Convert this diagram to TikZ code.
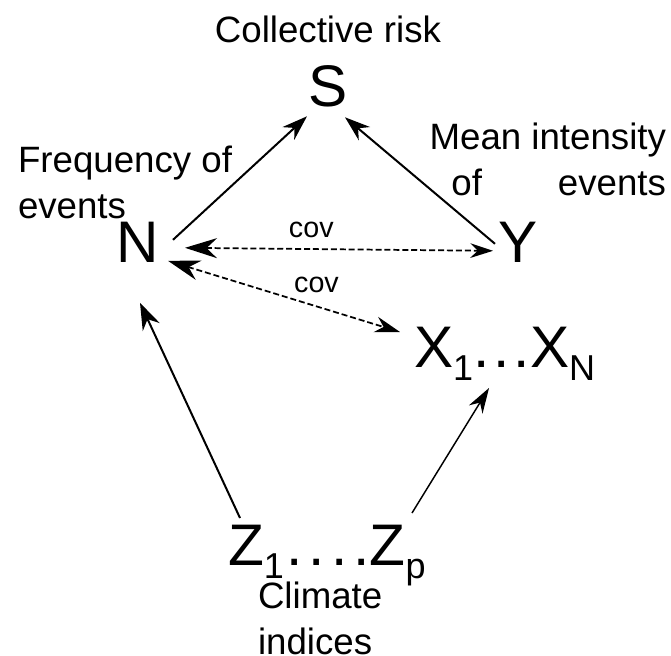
\documentclass[tikz,border=0pt]{standalone}
\usepackage{fontspec}
\setmainfont{Liberation Sans}
\usetikzlibrary{arrows.meta,calc}
\newcommand{\lowidx}[1]{\raisebox{-9.75pt}{\fontsize{27}{27}\selectfont #1}}
\newcommand{\lblfont}{\fontsize{27.5}{34.5}\selectfont}
\newcommand{\varfont}{\fontsize{44}{44}\selectfont}
\newcommand{\covfont}{\fontsize{21.5}{21.5}\selectfont}

\begin{document}
\begin{tikzpicture}[x=0.75pt,y=-0.75pt,line width=1.5pt,every node/.style={inner sep=0pt},
  var/.style={font=\varfont},lbl/.style={font=\lblfont},cov/.style={font=\covfont},
  head/.style={-{Stealth[length=19pt,width=13pt]}},
  link/.style={line width=1.3pt,dash pattern=on 4.5pt off 2.2pt}]
\useasboundingbox (0,0) rectangle (671,656);
\node[lbl,anchor=base] (risk) at (328,43) {Collective risk};
\node[var,anchor=base] (S) at (328,107) {S};
\node[lbl,anchor=north west,align=left] (freq) at (17,145) {Frequency of\\events};
\node[lbl,anchor=north east,align=right] (intens) at (667,122) {Mean intensity\\of\hspace{57pt}events};
\node[var,anchor=base] (N) at (137.5,262) {N};
\node[var,anchor=base] (Y) at (518,262) {Y};
\node[var,anchor=base west] (X) at (413,367) {X\lowidx{1}.\kern3pt.\kern3pt.X\lowidx{N}};
\node[var,anchor=base west] (Z) at (227,565) {Z\lowidx{1}\kern2pt.\kern4.5pt.\kern4.5pt.\kern4.5pt.Z\lowidx{p}};
\node[lbl,anchor=north west,align=left] (clim) at (257,581) {Climate\\indices};
% arrows into S
\draw[head] ($(N.center)+(35.5,-2)$) -- ($(S.center)+(-21,29.5)$);
\draw[head] ($(Y.center)+(-23,2)$) -- ($(S.center)+(17,30.5)$);
% covariances
\draw[link,{Stealth[length=24pt,width=15pt]}-{Stealth[length=17pt,width=11pt]}]
  ($(N.center)+(47.5,6)$) -- node[cov,pos=0.41,above=7.5pt] {cov} ($(Y.center)+(-25,9)$);
\draw[link,{Stealth[length=24pt,width=15pt]}-{Stealth[length=19pt,width=12pt]}]
  ($(N.center)+(30.5,19)$) -- node[cov,pos=0.64,above=9.5pt] {cov} ($(X.base west)+(-13,-35)$);
% climate drivers
\draw[-{Stealth[length=20pt,width=14pt]}] ($(Z.base west)+(13,-47)$) -- ($(N.center)+(2.5,61)$);
\draw[line width=1.1pt,-{Stealth[length=19pt,width=12pt]}] ($(Z.base west)+(185,-52)$) -- ($(X.base west)+(76,21)$);
\end{tikzpicture}
\end{document}
